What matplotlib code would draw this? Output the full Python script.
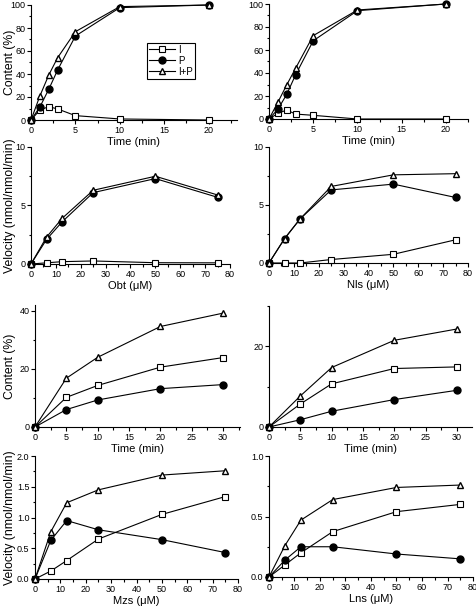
import matplotlib
matplotlib.use('Agg')
import matplotlib.pyplot as plt
from matplotlib.ticker import MultipleLocator

plt.rcParams['font.family'] = ['Liberation Sans', 'DejaVu Sans']

# time courses (min) and concentrations (uM)
t_a = [0, 1, 2, 3, 5, 10, 20]
t_b = [0, 5, 10, 20, 30]
conc = [0, 6.25, 12.5, 25, 50, 75]

# Obt content
obt_I = [0, 8.7, 11.6, 9.6, 3.8, 0.9, 0]
obt_P = [0, 11.3, 26.7, 43.5, 73, 97.7, 100]
obt_IP = [0, 20.9, 39.1, 54.2, 76.8, 98.6, 100]
# Nls content
nls_I = [0, 4.9, 7.8, 4.3, 3.2, 0, 0]
nls_P = [0, 8.4, 21.4, 38.3, 68, 94.2, 100]
nls_IP = [0, 14.5, 29.6, 44, 72.5, 94.8, 100]

# Obt velocity
obt_vI = [0, 0.1, 0.2, 0.26, 0.11, 0.1]
obt_vP = [0, 2.1, 3.6, 6.1, 7.3, 5.7]
obt_vIP = [0, 2.3, 3.9, 6.3, 7.5, 5.9]
# Nls velocity
nls_vI = [0, 0, 0, 0.3, 0.75, 2.0]
nls_vP = [0, 2.1, 3.8, 6.3, 6.8, 5.65]
nls_vIP = [0, 2.1, 3.8, 6.6, 7.6, 7.7]

# Mzs content
mzs_I = [0, 10.2, 14.3, 20.6, 23.9]
mzs_P = [0, 6.0, 9.3, 13.2, 14.6]
mzs_IP = [0, 16.8, 24.0, 34.6, 39.2]
# Lns content
lns_I = [0, 5.7, 10.7, 14.5, 14.9]
lns_P = [0, 1.8, 3.9, 6.8, 9.1]
lns_IP = [0, 7.7, 14.75, 21.5, 24.3]

# Mzs velocity
mzs_vI = [0, 0.13, 0.3, 0.65, 1.05, 1.34]
mzs_vP = [0, 0.63, 0.95, 0.8, 0.64, 0.43]
mzs_vIP = [0, 0.77, 1.24, 1.45, 1.69, 1.76]
# Lns velocity
lns_vI = [0, 0.10, 0.20, 0.375, 0.54, 0.60]
lns_vP = [0, 0.14, 0.25, 0.25, 0.19, 0.15]
lns_vIP = [0, 0.26, 0.47, 0.64, 0.74, 0.76]

W, H = 477, 606
fig = plt.figure(figsize=(W / 100, H / 100), dpi=100)


def add_ax(x0, y0, x1, y1):
    ax = fig.add_axes([x0 / W, 1 - y1 / H, (x1 - x0) / W, (y1 - y0) / H])
    ax._px = (x0, x1)
    return ax


def panel(ax, x, I, P, IP, xlim, ylim, xmaj, ymaj, xlabel, ylabel=None):
    ax.plot(x, I, '-', color='black', lw=0.8, marker='s', ms=4.5, mfc='white',
            mec='black', mew=0.8, label='I', clip_on=False, zorder=3)
    ax.plot(x, P, '-', color='black', lw=0.8, marker='o', ms=5, mfc='black',
            mec='black', label='P', clip_on=False, zorder=4)
    ax.plot(x, IP, '-', color='black', lw=0.8, marker='^', ms=4.3, mfc='white',
            mec='black', mew=1.0, label='I+P', clip_on=False, zorder=5)
    ax.set_xlim(*xlim)
    ax.set_ylim(*ylim)
    ax.xaxis.set_major_locator(MultipleLocator(xmaj))
    ax.xaxis.set_minor_locator(MultipleLocator(xmaj / 2))
    ax.yaxis.set_major_locator(MultipleLocator(ymaj))
    ax.yaxis.set_minor_locator(MultipleLocator(ymaj / 2))
    for s in ['top', 'right']:
        ax.spines[s].set_visible(False)
    for s in ['left', 'bottom']:
        ax.spines[s].set_linewidth(0.8)
    ax.tick_params(which='major', direction='out', length=3, width=0.8,
                   labelsize=6.5, pad=1)
    ax.tick_params(which='minor', direction='out', length=1.8, width=0.8)
    ax.set_xlabel(xlabel, fontsize=8, labelpad=1.5)
    if ylabel:
        ax.set_ylabel(ylabel, fontsize=8.8)
        x0, x1 = ax._px
        ax.yaxis.set_label_coords((16 - x0) / (x1 - x0), 0.5)


ax1 = add_ax(31, 5, 237, 120)
panel(ax1, t_a, obt_I, obt_P, obt_IP, (0, 23.2), (0, 100), 5, 20,
      'Time (min)', 'Content (%)')
leg = ax1.legend(loc='upper left', bbox_to_anchor=(0.563, 0.67), fontsize=7,
                 frameon=True, fancybox=False, edgecolor='black', framealpha=1,
                 handlelength=2.7, borderpad=0.2, labelspacing=0.1,
                 handletextpad=0.3, borderaxespad=0)
leg.get_frame().set_linewidth(0.8)

ax2 = add_ax(269, 4, 468, 119)
panel(ax2, t_a, nls_I, nls_P, nls_IP, (0, 22.5), (0, 100), 5, 20, 'Time (min)')

ax3 = add_ax(31, 147, 230, 264)
panel(ax3, conc, obt_vI, obt_vP, obt_vIP, (0, 80), (0, 10), 10, 5,
      'Obt (μM)', 'Velocity (nmol/nmol/min)')

ax4 = add_ax(269, 147, 468, 263)
panel(ax4, conc, nls_vI, nls_vP, nls_vIP, (0, 80), (0, 10), 10, 5, 'Nls (μM)')

ax5 = add_ax(35, 305, 240, 427)
panel(ax5, t_b, mzs_I, mzs_P, mzs_IP, (0, 32.7), (0, 42), 5, 20,
      'Time (min)', 'Content (%)')

ax6 = add_ax(269, 306, 472, 427)
panel(ax6, t_b, lns_I, lns_P, lns_IP, (0, 32.4), (0, 30), 5, 20, 'Time (min)')

ax7 = add_ax(35, 456, 238, 579)
panel(ax7, conc, mzs_vI, mzs_vP, mzs_vIP, (0, 80), (0, 2), 10, 0.5,
      'Mzs (μM)', 'Velocity (nmol/nmol/min)')

ax8 = add_ax(269, 456, 473, 577)
panel(ax8, conc, lns_vI, lns_vP, lns_vIP, (0, 80), (0, 1), 10, 0.5, 'Lns (μM)')

fig.savefig('out.png', dpi=100)
